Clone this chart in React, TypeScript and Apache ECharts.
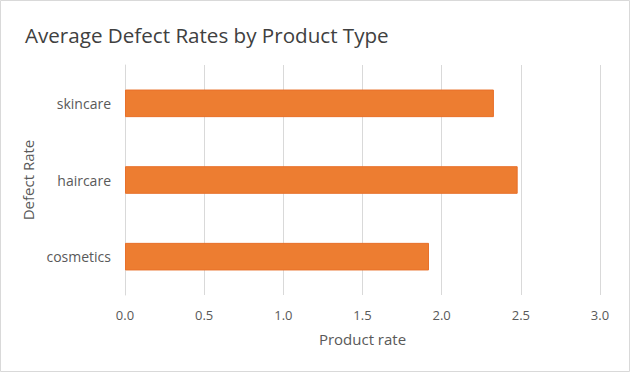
import React, { useEffect, useRef } from "react";
import * as echarts from "echarts";

const categories = ["cosmetics", "haircare", "skincare"];
const defectRates = [1.92, 2.48, 2.33];
const titleText = "Average Defect Rates by Product Type";
const xAxisName = "Product rate";
const yAxisName = "Defect Rate";

export default function App() {
  const ref = useRef<HTMLDivElement>(null);
  useEffect(() => {
    const chart = echarts.init(ref.current!, null, { renderer: "svg" });
    const font = "'Open Sans', 'Noto Sans', sans-serif";
    chart.setOption({
      animation: false,
      backgroundColor: "#ffffff",
      title: {
        text: titleText,
        left: 20,
        top: 19,
        textStyle: { fontFamily: font, fontSize: 20.6, fontWeight: "normal", color: "#404040" },
      },
      graphic: [
        {
          type: "rect",
          shape: { x: 0.5, y: 0.5, width: 629, height: 371 },
          style: { fill: "none", stroke: "#d9d9d9", lineWidth: 1 },
          silent: true,
        },
      ],
      grid: { left: 125, right: 30, top: 65, bottom: 77, containLabel: false },
      xAxis: {
        type: "value",
        min: 0,
        max: 3,
        interval: 0.5,
        name: xAxisName,
        nameLocation: "middle",
        nameGap: 36,
        nameTextStyle: { fontFamily: font, fontSize: 15, color: "#595959" },
        axisLine: { show: false },
        axisTick: { show: false },
        axisLabel: {
          formatter: (v: number) => v.toFixed(1),
          fontFamily: font,
          fontSize: 13,
          color: "#595959",
          margin: 13,
        },
        splitLine: { show: true, lineStyle: { color: "#d9d9d9", width: 1 } },
      },
      yAxis: {
        type: "category",
        data: categories,
        name: yAxisName,
        nameLocation: "middle",
        nameGap: 82,
        nameRotate: 90,
        nameTextStyle: { fontFamily: font, fontSize: 15, color: "#595959" },
        axisLine: { show: true, lineStyle: { color: "#d9d9d9", width: 1 } },
        axisTick: { show: false },
        axisLabel: { fontFamily: font, fontSize: 14, color: "#595959", margin: 14 },
        splitLine: { show: false },
      },
      series: [
        {
          type: "bar",
          data: defectRates,
          barWidth: "36%",
          itemStyle: { color: "#ED7D31", borderColor: "#E8702A", borderWidth: 1 },
        },
      ],
    });
    return () => chart.dispose();
  }, []);
  return (
    <div
      ref={ref}
      style={{ position: "fixed", left: 0, top: 0, width: 630, height: 372 }}
    />
  );
}
